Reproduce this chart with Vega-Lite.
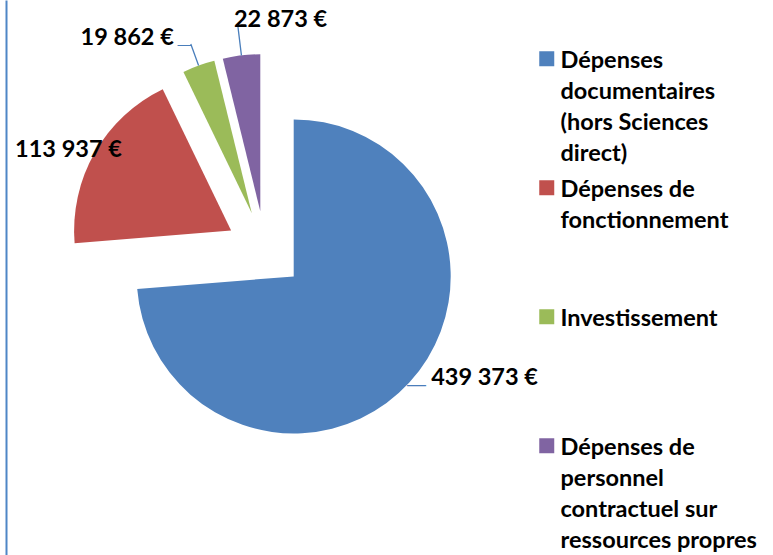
{
  "$schema": "https://vega.github.io/schema/vega-lite/v6.json",
  "width": 518,
  "height": 500,
  "autosize": {"type": "none"},
  "padding": {"left": 6, "top": 0, "right": 249, "bottom": 55},
  "background": "white",
  "config": {
    "view": {"stroke": null},
    "locale": {"number": {"decimal": ",", "thousands": " ", "grouping": [3], "currency": ["", " €"]}},
    "style": {"guide-label": {"lineHeight": 31}}
  },
  "data": {
    "values": [
      {"idx": 1, "cat": "Dépenses documentaires (hors Sciences direct)", "value": 439373},
      {"idx": 2, "cat": "Dépenses de fonctionnement", "value": 113937},
      {"idx": 3, "cat": "Investissement", "value": 19862},
      {"idx": 4, "cat": "Dépenses de personnel contractuel sur ressources propres", "value": 22873}
    ]
  },
  "layer": [
    {
      "encoding": {
        "theta": {"field": "value", "type": "quantitative", "stack": true},
        "order": {"field": "idx", "type": "quantitative"},
        "detail": {"field": "cat", "type": "nominal"},
        "color": {
          "field": "cat",
          "type": "nominal",
          "scale": {
            "domain": ["Dépenses documentaires (hors Sciences direct)", "Dépenses de fonctionnement", "Investissement", "Dépenses de personnel contractuel sur ressources propres"],
            "range": ["#4F81BD", "#C0504D", "#9BBB59", "#8064A2"]
          },
          "legend": {
            "title": null,
            "orient": "none",
            "legendX": 529,
            "legendY": 37,
            "direction": "vertical",
            "symbolType": "M-1,0.333H1V2.333H-1Z",
            "symbolSize": 225,
            "symbolStrokeWidth": 0,
            "labelFont": "Lato",
            "labelFontWeight": "bold",
            "labelFontSize": 23.5,
            "labelColor": "#000000",
            "labelBaseline": "top",
            "labelOffset": 2,
            "labelLimit": 320,
            "gridAlign": "all",
            "rowPadding": -3,
            "labelExpr": "datum.label == 'Dépenses documentaires (hors Sciences direct)' ? ['Dépenses', 'documentaires', '(hors Sciences', 'direct)'] : datum.label == 'Dépenses de fonctionnement' ? ['Dépenses de', 'fonctionnement'] : datum.label == 'Investissement' ? ['Investissement'] : ['Dépenses de', 'personnel', 'contractuel sur', 'ressources propres']"
          }
        }
      },
      "layer": [
        {
          "mark": {"type": "arc", "outerRadius": 157, "xOffset": 28.7, "yOffset": 26.4},
          "encoding": {"opacity": {"condition": {"test": "datum.idx === 1", "value": 1}, "value": 0}}
        },
        {
          "mark": {"type": "arc", "outerRadius": 157, "xOffset": -33.9, "yOffset": -19.4},
          "encoding": {"opacity": {"condition": {"test": "datum.idx === 2", "value": 1}, "value": 0}}
        },
        {
          "mark": {"type": "arc", "outerRadius": 157, "xOffset": -13.2, "yOffset": -36.7},
          "encoding": {"opacity": {"condition": {"test": "datum.idx === 3", "value": 1}, "value": 0}}
        },
        {
          "mark": {"type": "arc", "outerRadius": 157, "xOffset": -4.7, "yOffset": -38.7},
          "encoding": {"opacity": {"condition": {"test": "datum.idx === 4", "value": 1}, "value": 0}}
        },
        {
          "mark": {"type": "arc", "innerRadius": 157, "outerRadius": 180, "padAngle": 3.2, "filled": false, "strokeWidth": 1.3, "xOffset": -13.2, "yOffset": -36.7},
          "encoding": {"color": {"value": "#4A7EBB"}, "opacity": {"condition": {"test": "datum.idx === 3", "value": 1}, "value": 0}}
        },
        {
          "mark": {"type": "arc", "innerRadius": 157, "outerRadius": 186, "padAngle": 3.2, "filled": false, "strokeWidth": 1.3, "xOffset": -4.7, "yOffset": -38.7},
          "encoding": {"color": {"value": "#4A7EBB"}, "opacity": {"condition": {"test": "datum.idx === 4", "value": 1}, "value": 0}}
        },
        {
          "mark": {"type": "text", "text": "—", "radius": 164, "align": "center", "baseline": "alphabetic", "dx": 2.3, "dy": 2.6, "xOffset": 28.7, "yOffset": 26.4, "font": "Liberation Sans", "fontSize": 19},
          "encoding": {
            "color": {"value": "#4A7EBB"},
            "opacity": {"condition": {"test": "datum.idx === 1", "value": 1}, "value": 0}
          }
        },
        {
          "mark": {"type": "text", "text": "—", "radius": 180, "align": "center", "baseline": "alphabetic", "dx": -6.3, "dy": 5, "xOffset": -13.2, "yOffset": -36.7, "font": "Liberation Sans", "fontSize": 14},
          "encoding": {
            "color": {"value": "#4A7EBB"},
            "opacity": {"condition": {"test": "datum.idx === 3", "value": 1}, "value": 0}
          }
        },
        {
          "mark": {"type": "text", "radius": 172, "align": "left", "baseline": "middle", "dx": 11, "dy": -15, "xOffset": 28.7, "yOffset": 26.4, "font": "Lato", "fontWeight": "bold", "fontSize": 23.5},
          "encoding": {
            "text": {"field": "value", "type": "quantitative", "format": "$,.0f"},
            "color": {"value": "#000000"},
            "opacity": {"condition": {"test": "datum.idx === 1", "value": 1}, "value": 0}
          }
        },
        {
          "mark": {"type": "text", "radius": 181, "align": "center", "baseline": "middle", "dx": -5.5, "dy": 9.4, "xOffset": -33.9, "yOffset": -19.4, "font": "Lato", "fontWeight": "bold", "fontSize": 23.5},
          "encoding": {
            "text": {"field": "value", "type": "quantitative", "format": "$,.0f"},
            "color": {"value": "#000000"},
            "opacity": {"condition": {"test": "datum.idx === 2", "value": 1}, "value": 0}
          }
        },
        {
          "mark": {"type": "text", "radius": 180, "align": "right", "baseline": "middle", "dx": -17, "dy": -6, "xOffset": -13.2, "yOffset": -36.7, "font": "Lato", "fontWeight": "bold", "fontSize": 23.5},
          "encoding": {
            "text": {"field": "value", "type": "quantitative", "format": "$,.0f"},
            "color": {"value": "#000000"},
            "opacity": {"condition": {"test": "datum.idx === 3", "value": 1}, "value": 0}
          }
        },
        {
          "mark": {"type": "text", "radius": 186, "align": "left", "baseline": "middle", "dx": -4, "dy": -7, "xOffset": -4.7, "yOffset": -38.7, "font": "Lato", "fontWeight": "bold", "fontSize": 23.5},
          "encoding": {
            "text": {"field": "value", "type": "quantitative", "format": "$,.0f"},
            "color": {"value": "#000000"},
            "opacity": {"condition": {"test": "datum.idx === 4", "value": 1}, "value": 0}
          }
        }
      ]
    },
    {
      "mark": {"type": "point", "opacity": 0},
      "encoding": {
        "y": {
          "field": "value",
          "type": "quantitative",
          "scale": {"range": [555, 0]},
          "axis": {"domainColor": "#4F86C6", "domainWidth": 2, "ticks": false, "labels": false, "title": null, "grid": false}
        }
      }
    }
  ]
}
